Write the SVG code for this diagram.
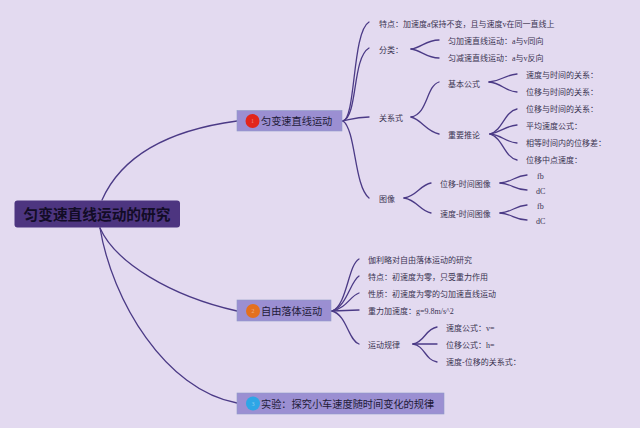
<svg xmlns="http://www.w3.org/2000/svg" width="640" height="428" viewBox="0 0 640 428">
<style>
text{font-family:"Liberation Serif","Noto Sans CJK SC",serif;fill:#2a2440}
.s{font-size:8px;fill:#3a3350}
.m{font-size:10.2px;fill:#1e1a38}
.r{font-size:14.7px;font-weight:700;fill:#120c26}
.n{font-size:6px;text-anchor:middle;fill-opacity:.45}
.b{fill:#9b8fd2;stroke:#8f9cc8;stroke-width:.6}
path{fill:none;stroke:#4b3a86;stroke-width:1.3;stroke-linecap:round}
</style>
<rect width="640" height="428" fill="#e3daf0"/>
<g id="connectors">
<path d="M102 200C122 155 170 130 237 121"/>
<path d="M100 228C115 262 170 296 237 311"/>
<path d="M100 228C112 300 165 390 237 403"/>
<path d="M343 121C356 118 352 32 369 22"/>
<path d="M343 121C358 116 352 58 369 48"/>
<path d="M343 121C352 119 356 117 369 117"/>
<path d="M343 121C356 130 354 186 369 198"/>
<path d="M411 49C421 48 426 40 439 40"/>
<path d="M411 49C421 50 426 58 439 58"/>
<path d="M411 117C428 114 426 86 439 82"/>
<path d="M411 117C422 120 426 131 439 134"/>
<path d="M489 82C502 81 504 75 517 74"/>
<path d="M489 82C502 83 504 91 517 92"/>
<path d="M490 134C503 130 504 112 517 109"/>
<path d="M490 134C502 132 505 126 517 125"/>
<path d="M490 134C502 135 505 142 517 143"/>
<path d="M490 134C503 138 504 157 517 160"/>
<path d="M404 198C417 196 420 185 431 183"/>
<path d="M404 198C417 200 420 211 431 213"/>
<path d="M500 183C513 182 514 176 527 175"/>
<path d="M500 183C513 184 514 190 527 190"/>
<path d="M500 213C513 212 514 206 527 205"/>
<path d="M500 213C513 214 514 220 527 220"/>
<path d="M332 311C347 306 348 265 359 259"/>
<path d="M332 311C347 306 350 282 359 276"/>
<path d="M332 311C347 308 350 296 359 293"/>
<path d="M332 311L359 310"/>
<path d="M332 311C347 315 348 340 359 344"/>
<path d="M413 344C425 342 425 329 437 327"/>
<path d="M413 344L437 344"/>
<path d="M413 344C425 346 425 360 437 362"/>
</g>
<g id="root"><rect x="14.5" y="200.5" width="165.500" height="27" rx="3" fill="#4d3580"/><text class="r" x="23.500" y="220">匀变速直线运动的研究</text></g>
<g id="node1"><rect class="b" x="237" y="110.500" width="105" height="20.500"/><circle cx="252.500" cy="121" r="7" fill="#e3261b"/><text class="n" x="252.500" y="123" style="fill:#fff">1</text><text class="m" x="261" y="125">匀变速直线运动</text></g>
<g id="node2"><rect class="b" x="237" y="300" width="94" height="21"/><circle cx="253" cy="311" r="7" fill="#e4701f"/><text class="n" x="253" y="313" style="fill:#fff">2</text><text class="m" x="261" y="315">自由落体运动</text></g>
<g id="node3"><rect class="b" x="237" y="393" width="207" height="21"/><circle cx="253" cy="403.500" r="7" fill="#2ea6e6"/><text class="n" x="253" y="405.500" style="fill:#fff">3</text><text class="m" x="261" y="407.500">实验：探究小车速度随时间变化的规律</text></g>
<g id="n-a1"><text class="s" x="379" y="26.500">特点：加速度a保持不变，且与速度v在同一直线上</text></g>
<g id="n-a2"><text class="s" x="379" y="52.500">分类：</text></g>
<g id="n-a21"><text class="s" x="448" y="44">匀加速直线运动：a与v同向</text></g>
<g id="n-a22"><text class="s" x="448" y="61">匀减速直线运动：a与v反向</text></g>
<g id="n-a3"><text class="s" x="379" y="120.500">关系式</text></g>
<g id="n-a31"><text class="s" x="448" y="86.500">基本公式</text></g>
<g id="n-a311"><text class="s" x="526" y="78">速度与时间的关系：</text></g>
<g id="n-a312"><text class="s" x="526" y="95">位移与时间的关系：</text></g>
<g id="n-a32"><text class="s" x="448" y="137.500">重要推论</text></g>
<g id="n-a321"><text class="s" x="526" y="112">位移与时间的关系：</text></g>
<g id="n-a322"><text class="s" x="526" y="129">平均速度公式：</text></g>
<g id="n-a323"><text class="s" x="526" y="146">相等时间内的位移差：</text></g>
<g id="n-a324"><text class="s" x="526" y="163">位移中点速度：</text></g>
<g id="n-a4"><text class="s" x="379" y="201.500">图像</text></g>
<g id="n-a41"><text class="s" x="440" y="187">位移-时间图像</text></g>
<g id="n-a42"><text class="s" x="440" y="216.500">速度-时间图像</text></g>
<g id="n-a411"><text class="s" x="537" y="179">fb</text></g>
<g id="n-a412"><text class="s" x="536" y="194">dC</text></g>
<g id="n-a421"><text class="s" x="537" y="209">fb</text></g>
<g id="n-a422"><text class="s" x="536" y="224">dC</text></g>
<g id="n-b1"><text class="s" x="368" y="263">伽利略对自由落体运动的研究</text></g>
<g id="n-b2"><text class="s" x="368" y="280">特点：初速度为零，只受重力作用</text></g>
<g id="n-b3"><text class="s" x="368" y="297">性质：初速度为零的匀加速直线运动</text></g>
<g id="n-b4"><text class="s" x="368" y="314">重力加速度：g=9.8m/s^2</text></g>
<g id="n-b5"><text class="s" x="368" y="348">运动规律</text></g>
<g id="n-b51"><text class="s" x="446" y="331">速度公式：v=</text></g>
<g id="n-b52"><text class="s" x="446" y="348">位移公式：h=</text></g>
<g id="n-b53"><text class="s" x="446" y="365">速度-位移的关系式：</text></g>
</svg>
